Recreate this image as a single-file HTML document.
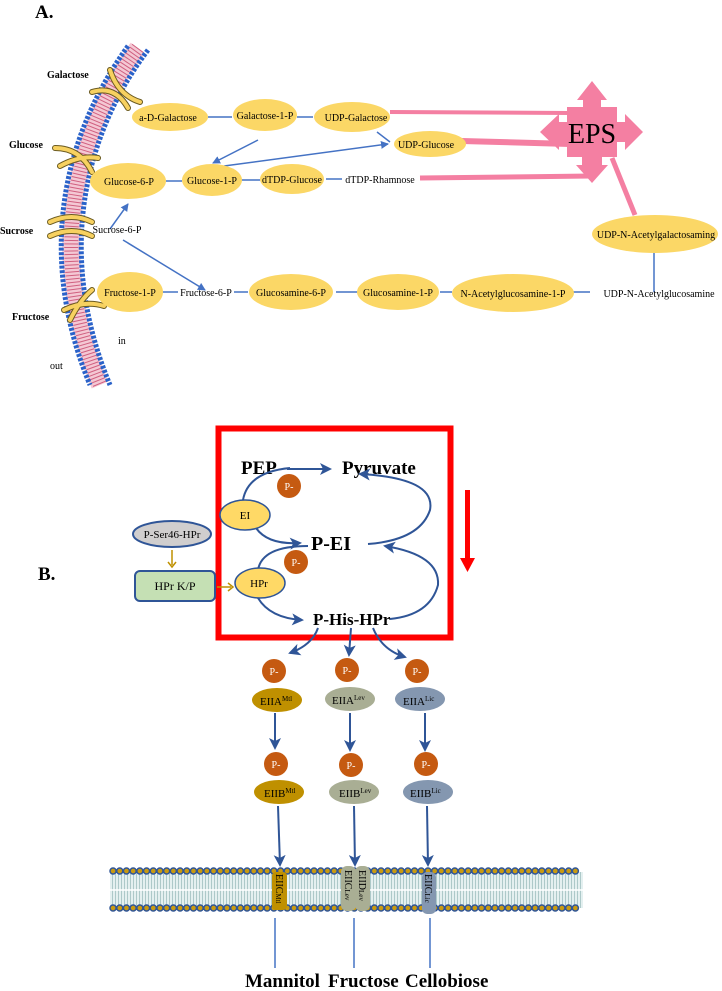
<!DOCTYPE html>
<html><head><meta charset="utf-8"><style>
html,body{margin:0;padding:0;background:#fff}
svg{display:block}
text{font-family:"Liberation Serif",serif}
</style></head><body>
<svg width="722" height="991" viewBox="0 0 722 991" xmlns="http://www.w3.org/2000/svg">
<defs>
<marker id="ab" markerWidth="8" markerHeight="8" refX="7" refY="4" orient="auto" markerUnits="userSpaceOnUse"><path d="M0,0 L8,4 L0,8 z" fill="#4472c4"/></marker>
<marker id="ab2" markerWidth="12" markerHeight="12" refX="10" refY="6" orient="auto" markerUnits="userSpaceOnUse"><path d="M0,0 L12,6 L0,12 L3,6 z" fill="#2f5597"/></marker>
<pattern id="lip" width="3" height="10" patternUnits="userSpaceOnUse"><rect width="3" height="10" fill="#e4f0f0"/><line x1="1.5" y1="0" x2="1.5" y2="10" stroke="#9fbfbf" stroke-width="0.8"/></pattern>
</defs>

<!-- Panel A -->
<text x="35" y="18" font-size="19" font-weight="bold">A.</text>
<path d="M138,48 C70,140 48,260 100,385" fill="none" stroke="#f4c8d4" stroke-width="18"/>
<path d="M138,48 C70,140 48,260 100,385" fill="none" stroke="#d06080" stroke-width="14" stroke-dasharray="1 2.5"/>
<path d="M128,46 C60,140 38,260 90,385" fill="none" stroke="#2a62c9" stroke-width="5" stroke-dasharray="3 1.5"/>
<path d="M148,50 C80,140 58,260 110,385" fill="none" stroke="#2a62c9" stroke-width="5" stroke-dasharray="3 1.5"/>
<g fill="none" stroke-linecap="round">
<g stroke="#6a5a20" stroke-width="6"><path d="M92,92 Q115,85 128,108"/><path d="M110,70 Q118,95 140,102"/><path d="M55,148 Q80,148 92,172"/><path d="M60,166 Q80,155 98,158"/><path d="M50,222 Q72,212 92,222"/><path d="M50,236 Q72,226 92,236"/><path d="M64,310 Q85,300 104,306"/><path d="M70,320 Q80,300 92,290"/></g>
<g stroke="#f7d160" stroke-width="4"><path d="M92,92 Q115,85 128,108"/><path d="M110,70 Q118,95 140,102"/><path d="M55,148 Q80,148 92,172"/><path d="M60,166 Q80,155 98,158"/><path d="M50,222 Q72,212 92,222"/><path d="M50,236 Q72,226 92,236"/><path d="M64,310 Q85,300 104,306"/><path d="M70,320 Q80,300 92,290"/></g>
</g>
<g font-size="10" font-weight="bold">
<text x="47" y="78">Galactose</text><text x="9" y="148">Glucose</text><text x="0" y="234">Sucrose</text><text x="12" y="320">Fructose</text>
</g>
<text x="118" y="344" font-size="10">in</text><text x="50" y="369" font-size="10">out</text>

<g stroke="#f47fa2" fill="none">
<path d="M390,112 L570,113" stroke-width="4"/>
<path d="M462,141 L570,144" stroke-width="6"/>
<path d="M420,178 L592,176" stroke-width="5"/>
<path d="M612,158 L635,215" stroke-width="5"/>
</g>
<path fill="#f47fa2" d="M567,107 L583,107 L583,100 L577,100 L592,81 L607,100 L601,100 L601,107 L617,107 L617,122 L625,122 L625,114 L643,132 L625,150 L625,142 L617,142 L617,157 L602,157 L602,165 L608,165 L592,183 L576,165 L582,165 L582,157 L567,157 L567,142 L559,142 L559,150 L540,132 L559,114 L559,122 L567,122 Z"/>
<text x="592" y="143" font-size="28" text-anchor="middle">EPS</text>

<g stroke="#4472c4" stroke-width="1.5" fill="none">
<line x1="208" y1="117" x2="232" y2="117"/><line x1="297" y1="117" x2="313" y2="117"/>
<line x1="166" y1="181" x2="182" y2="181"/><line x1="240" y1="180" x2="260" y2="180"/><line x1="326" y1="179" x2="342" y2="179"/>
<line x1="162" y1="292" x2="178" y2="292"/><line x1="234" y1="292" x2="248" y2="292"/><line x1="336" y1="292" x2="358" y2="292"/><line x1="440" y1="292" x2="452" y2="292"/><line x1="572" y1="292" x2="590" y2="292"/>
<line x1="654" y1="252" x2="654" y2="292"/>
<line x1="377" y1="132" x2="390" y2="142"/>
<line x1="258" y1="140" x2="213" y2="163" marker-end="url(#ab)"/>
<line x1="224" y1="166" x2="388" y2="144" marker-end="url(#ab)"/>
<line x1="110" y1="229" x2="128" y2="204" marker-end="url(#ab)"/>
<line x1="123" y1="240" x2="205" y2="290" marker-end="url(#ab)"/>
</g>
<g fill="#fbd766">
<ellipse cx="170" cy="117" rx="38" ry="14"/><ellipse cx="265" cy="115" rx="32" ry="16"/><ellipse cx="352" cy="117" rx="38" ry="15"/>
<ellipse cx="430" cy="144" rx="36" ry="13"/>
<ellipse cx="128" cy="181" rx="38" ry="18"/><ellipse cx="212" cy="180" rx="30" ry="16"/><ellipse cx="292" cy="179" rx="32" ry="15"/>
<ellipse cx="655" cy="234" rx="63" ry="19"/>
<ellipse cx="130" cy="292" rx="33" ry="20"/><ellipse cx="291" cy="292" rx="42" ry="18"/><ellipse cx="398" cy="292" rx="41" ry="18"/><ellipse cx="513" cy="293" rx="61" ry="19"/>
</g>
<g font-size="10" text-anchor="middle">
<text x="168" y="121">a-D-Galactose</text><text x="265" y="119">Galactose-1-P</text><text x="356" y="121">UDP-Galactose</text>
<text x="426" y="148">UDP-Glucose</text>
<text x="129" y="185">Glucose-6-P</text><text x="212" y="184">Glucose-1-P</text><text x="292" y="183">dTDP-Glucose</text><text x="380" y="183">dTDP-Rhamnose</text>
<text x="117" y="233">Sucrose-6-P</text>
<text x="656" y="238">UDP-N-Acetylgalactosaming</text>
<text x="130" y="296">Fructose-1-P</text><text x="206" y="296">Fructose-6-P</text><text x="291" y="296">Glucosamine-6-P</text><text x="398" y="296">Glucosamine-1-P</text><text x="513" y="297">N-Acetylglucosamine-1-P</text><text x="659" y="297">UDP-N-Acetylglucosamine</text>
</g>

<!-- Panel B -->
<text x="38" y="580" font-size="19" font-weight="bold">B.</text>
<rect x="218.5" y="428.5" width="232" height="209" fill="none" stroke="#ff0000" stroke-width="6"/>
<rect x="465" y="490" width="5" height="70" fill="#ff0000"/><path d="M460,558 L475,558 L467.5,572 Z" fill="#ff0000"/>

<g font-weight="bold">
<text x="241" y="474" font-size="19">PEP</text><text x="342" y="474" font-size="19">Pyruvate</text>
<text x="311" y="550" font-size="20">P-EI</text><text x="313" y="625" font-size="17">P-His-HPr</text>
</g>
<g stroke="#2f5597" stroke-width="2" fill="none">
<line x1="287" y1="469" x2="330" y2="469" marker-end="url(#ab2)"/>
<path d="M243,500 Q248,472 290,468"/>
<path d="M256,528 Q268,545 300,543" marker-end="url(#ab2)"/>
<path d="M368,544 Q420,540 430,510 Q436,478 360,474" marker-end="url(#ab2)"/>
<path d="M258,570 Q262,546 308,546"/>
<path d="M258,598 Q270,618 302,620" marker-end="url(#ab2)"/>
<path d="M390,619 Q430,615 438,585 Q440,555 385,546" marker-end="url(#ab2)"/>
<path d="M318,628 Q312,645 290,653" marker-end="url(#ab2)"/>
<path d="M351,628 L349,655" marker-end="url(#ab2)"/>
<path d="M373,628 Q382,650 405,657" marker-end="url(#ab2)"/>
</g>
<g fill="#c55a11">
<circle cx="289" cy="486" r="12"/><circle cx="296" cy="562" r="12"/>
<circle cx="274" cy="671" r="12"/><circle cx="347" cy="670" r="12"/><circle cx="417" cy="671" r="12"/>
<circle cx="276" cy="764" r="12"/><circle cx="351" cy="765" r="12"/><circle cx="426" cy="764" r="12"/>
</g>
<g fill="#fff" font-size="10" text-anchor="middle">
<text x="289" y="490">P-</text><text x="296" y="566">P-</text>
<text x="274" y="675">P-</text><text x="347" y="674">P-</text><text x="417" y="675">P-</text>
<text x="276" y="768">P-</text><text x="351" y="769">P-</text><text x="426" y="768">P-</text>
</g>
<g fill="#ffd966" stroke="#2f5597" stroke-width="1.5">
<ellipse cx="245" cy="515" rx="25" ry="15"/><ellipse cx="260" cy="583" rx="25" ry="15"/>
</g>
<ellipse cx="172" cy="534" rx="39" ry="13" fill="#d0cece" stroke="#2f5597" stroke-width="2"/>
<rect x="135" y="571" width="80" height="30" rx="5" fill="#c5e0b4" stroke="#2f5597" stroke-width="2"/>
<g stroke="#bf9000" stroke-width="1.5" fill="none">
<line x1="172" y1="550" x2="172" y2="565"/><path d="M168,562 L172,567 L176,562"/>
<line x1="217" y1="587" x2="231" y2="587"/><path d="M228,583 L233,587 L228,591"/>
</g>
<g font-size="11" text-anchor="middle">
<text x="245" y="519">EI</text><text x="259" y="587">HPr</text><text x="172" y="538">P-Ser46-HPr</text><text x="175" y="590" font-size="12">HPr K/P</text>
</g>
<g>
<ellipse cx="277" cy="700" rx="25" ry="12" fill="#bf9000"/><ellipse cx="350" cy="699" rx="25" ry="12" fill="#a9ae94"/><ellipse cx="420" cy="699" rx="25" ry="12" fill="#8497b0"/>
<ellipse cx="279" cy="792" rx="25" ry="12" fill="#bf9000"/><ellipse cx="354" cy="792" rx="25" ry="12" fill="#a9ae94"/><ellipse cx="428" cy="792" rx="25" ry="12" fill="#8497b0"/>
</g>
<g font-size="11">
<text x="260" y="705">EIIA<tspan font-size="7" dy="-4">Mtl</tspan></text>
<text x="332" y="704">EIIA<tspan font-size="7" dy="-4">Lev</tspan></text>
<text x="403" y="705">EIIA<tspan font-size="7" dy="-4">Lic</tspan></text>
<text x="264" y="797">EIIB<tspan font-size="7" dy="-4">Mtl</tspan></text>
<text x="339" y="797">EIIB<tspan font-size="7" dy="-4">Lev</tspan></text>
<text x="410" y="797">EIIB<tspan font-size="7" dy="-4">Lic</tspan></text>
</g>
<g stroke="#2f5597" stroke-width="2">
<line x1="275" y1="713" x2="275" y2="748" marker-end="url(#ab2)"/>
<line x1="350" y1="713" x2="350" y2="750" marker-end="url(#ab2)"/>
<line x1="425" y1="713" x2="425" y2="750" marker-end="url(#ab2)"/>
<line x1="278" y1="806" x2="280" y2="865" marker-end="url(#ab2)"/>
<line x1="354" y1="806" x2="355" y2="865" marker-end="url(#ab2)"/>
<line x1="427" y1="806" x2="428" y2="865" marker-end="url(#ab2)"/>
</g>
<rect x="110" y="872" width="473" height="36" fill="url(#lip)"/>
<line x1="110" y1="890" x2="583" y2="890" stroke="#fff" stroke-width="1.5"/>
<g stroke-linecap="round">
<line x1="113" y1="871" x2="581" y2="871" stroke="#2f5597" stroke-width="7.5" stroke-dasharray="0.1 6.6"/>
<line x1="113" y1="908" x2="581" y2="908" stroke="#2f5597" stroke-width="7.5" stroke-dasharray="0.1 6.6"/>
<line x1="113" y1="871" x2="581" y2="871" stroke="#c99a10" stroke-width="4.5" stroke-dasharray="0.1 6.6"/>
<line x1="113" y1="908" x2="581" y2="908" stroke="#c99a10" stroke-width="4.5" stroke-dasharray="0.1 6.6"/>
</g>
<rect x="272" y="872" width="15" height="38" rx="4" fill="#bf9000"/>
<rect x="341" y="866" width="15" height="45" rx="6" fill="#a9ae94"/>
<rect x="355" y="866" width="15" height="45" rx="6" fill="#a9ae94"/>
<rect x="422" y="872" width="14" height="42" rx="5" fill="#8497b0"/>
<g font-size="10">
<text transform="translate(276,874) rotate(90)">EIIC<tspan font-size="7">Mtl</tspan></text>
<text transform="translate(345,870) rotate(90)">EIIC<tspan font-size="7">Lev</tspan></text>
<text transform="translate(359,870) rotate(90)">EIID<tspan font-size="7">Lev</tspan></text>
<text transform="translate(425,874) rotate(90)">EIIC<tspan font-size="7">Lic</tspan></text>
</g>
<g stroke="#4472c4" stroke-width="1.5">
<line x1="275" y1="918" x2="275" y2="968"/><line x1="354" y1="918" x2="354" y2="968"/><line x1="430" y1="918" x2="430" y2="968"/>
</g>
<g font-size="19" font-weight="bold">
<text x="245" y="987">Mannitol</text><text x="328" y="987">Fructose</text><text x="405" y="987">Cellobiose</text>
</g>
</svg>
</body></html>
